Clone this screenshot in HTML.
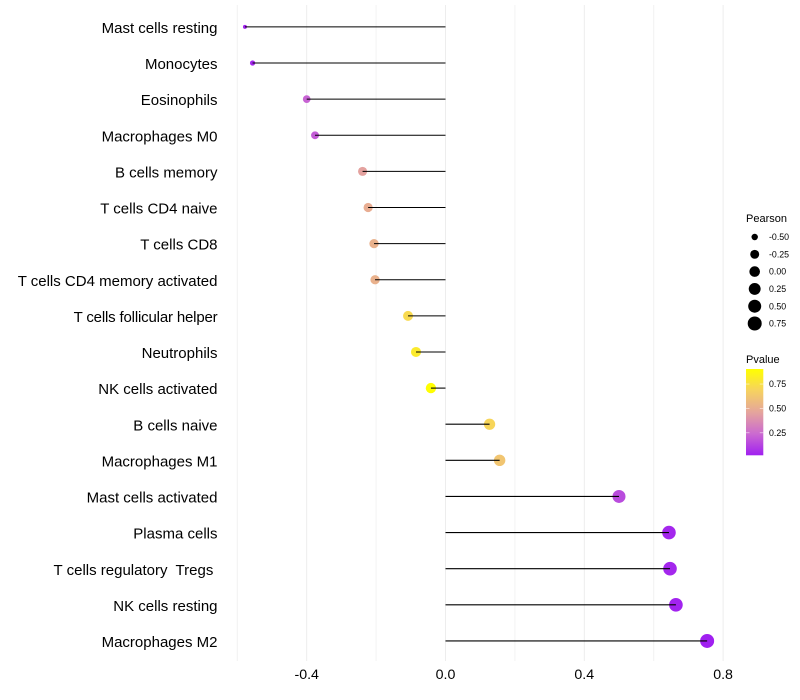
<!DOCTYPE html>
<html>
<head>
<meta charset="utf-8">
<title>Pearson lollipop chart</title>
<style>
html,body{margin:0;padding:0;background:#fff;width:800px;height:700px;overflow:hidden}
svg{display:block;font-family:"Liberation Sans",sans-serif}
text{white-space:pre}
</style>
</head>
<body>
<svg id="chart" width="800" height="700" viewBox="0 0 800 700" xmlns="http://www.w3.org/2000/svg"></svg>
<script>
const categories = ["Mast cells resting","Monocytes","Eosinophils","Macrophages M0","B cells memory","T cells CD4 naive","T cells CD8","T cells CD4 memory activated","T cells follicular helper","Neutrophils","NK cells activated","B cells naive","Macrophages M1","Mast cells activated","Plasma cells","T cells regulatory  Tregs ","NK cells resting","Macrophages M2"];
const pearsonValues = [-0.578,-0.556,-0.400,-0.376,-0.239,-0.223,-0.206,-0.203,-0.108,-0.085,-0.042,0.127,0.156,0.500,0.644,0.647,0.664,0.754];
const pvalueValues = [0.03,0.04,0.22,0.20,0.45,0.50,0.52,0.52,0.72,0.80,0.90,0.70,0.62,0.15,0.04,0.04,0.03,0.02];
const xTickValues = [-0.4,0,0.4,0.8];
const xMinorValues = [-0.6,-0.2,0.2,0.6];
const sizeLegendValues = [-0.5,-0.25,0,0.25,0.5,0.75];
const colorLegendValues = [0.75,0.5,0.25];
const colorStops = ["#A020F0","#CB6AD0","#E5A59C","#F6D260","#FFFF00"];

const NS = "http://www.w3.org/2000/svg";
const svg = document.getElementById("chart");
const X0 = 445.5, XS = 347, Y0 = 26.9, YS = 36.12;
const xScale = v => X0 + v * XS;
const yScale = i => Y0 + i * YS;
const pMin = 0.02, pMax = 0.904;
const sMin = Math.min(...pearsonValues), sMax = Math.max(...pearsonValues);
const rScale = v => 2 + Math.sqrt(Math.max(0,(v - sMin) / (sMax - sMin))) * 5;
function hex(c){return [1,3,5].map(i=>parseInt(c.substr(i,2),16));}
function colorScale(p){
  const t = Math.min(1,Math.max(0,(p - pMin) / (pMax - pMin))) * (colorStops.length - 1);
  const i = Math.min(colorStops.length - 2, Math.floor(t));
  const a = hex(colorStops[i]), b = hex(colorStops[i+1]), f = t - i;
  return "rgb(" + a.map((v,k)=>Math.round(v + (b[k]-v)*f)).join(",") + ")";
}
function make(tag, attrs, text){
  const el = document.createElementNS(NS, tag);
  for (const k in attrs) el.setAttribute(k, attrs[k]);
  if (text !== undefined) el.textContent = text;
  svg.appendChild(el);
  return el;
}

xMinorValues.forEach(v => {
  const el = make("line",{x1:xScale(v),x2:xScale(v),y1:5,y2:661,stroke:"#f2f2f2","stroke-width":1});
  
  
});
xTickValues.forEach(v => {
  const el = make("line",{x1:xScale(v),x2:xScale(v),y1:5,y2:661,stroke:"#ededed","stroke-width":1});
  
  
  const lab = make("text",{x:xScale(v),y:679,"text-anchor":"middle","font-size":14.2,fill:"#000"},v.toFixed(1));
  
  
});

categories.forEach((c,i) => {
  const y = yScale(i);
  const lab = make("text",{x:217.5,y:y+6.1,"text-anchor":"end","font-size":15,fill:"#000"},c);
  if (c === "T cells follicular helper") lab.setAttribute("letter-spacing", "-0.17");
  
  
  const dot = make("circle",{cx:xScale(pearsonValues[i]),cy:y,r:rScale(pearsonValues[i]),fill:colorScale(pvalueValues[i])});
  
  
  const seg = make("line",{x1:X0,x2:xScale(pearsonValues[i]),y1:y,y2:y,stroke:"#000","stroke-width":1.07});
  
  
});

const t1 = make("text",{x:746,y:222,"font-size":11,fill:"#000"},"Pearson");


sizeLegendValues.forEach((v,i) => {
  const y = 237 + i * 17.3;
  const dot = make("circle",{cx:754.7,cy:y,r:rScale(v),fill:"#000"});
  
  
  const lab = make("text",{x:769,y:y+3.1,"font-size":8.8,fill:"#000"},v.toFixed(2));
  
  
});

const t2 = make("text",{x:746,y:363,"font-size":11,fill:"#000"},"Pvalue");


const defs = make("defs",{});
const grad = document.createElementNS(NS,"linearGradient");
grad.setAttribute("id","pgrad");
grad.setAttribute("x1","0");grad.setAttribute("x2","0");grad.setAttribute("y1","1");grad.setAttribute("y2","0");
colorStops.forEach((c,i)=>{
  const s = document.createElementNS(NS,"stop");
  s.setAttribute("offset", i/(colorStops.length-1));
  s.setAttribute("stop-color", c);
  grad.appendChild(s);
});
defs.appendChild(grad);
const barTop = 369, barBottom = 455.3;
const bar = make("rect",{x:746,y:barTop,width:17.3,height:barBottom-barTop,fill:"url(#pgrad)"});


colorLegendValues.forEach(v => {
  const y = barBottom - (v - pMin) / (pMax - pMin) * (barBottom - barTop);
  const a = make("line",{x1:746,x2:749.5,y1:y,y2:y,stroke:"#fff","stroke-width":0.5});
  
  
  const b = make("line",{x1:759.8,x2:763.3,y1:y,y2:y,stroke:"#fff","stroke-width":0.5});
  
  
  const lab = make("text",{x:769,y:y+3.1,"font-size":8.8,fill:"#000"},v.toFixed(2));
  
  
});
</script>
</body>
</html>
